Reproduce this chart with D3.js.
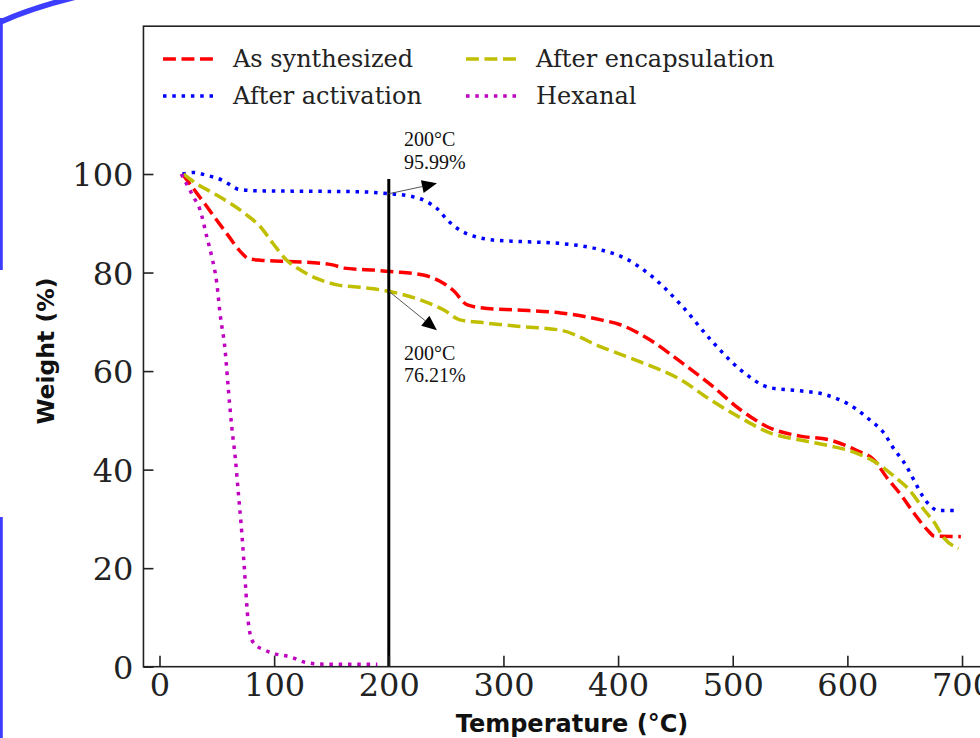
<!DOCTYPE html>
<html>
<head>
<meta charset="utf-8">
<script src="https://cdn.jsdelivr.net/npm/d3@7/dist/d3.min.js"></script>
<style>
  html, body { margin: 0; padding: 0; background: #ffffff; }
  svg { display: block; }
</style>
</head>
<body>
<svg id="chart" width="980" height="738"></svg>
<script>
// ---------------- DATA ----------------
const seriesNames = ["As synthesized", "After activation", "After encapsulation", "Hexanal"];

const tempAsSynth = [20, 30, 40, 50, 60, 70, 78, 88, 117, 140, 152, 161, 187, 201, 230, 245, 257, 268, 286, 312, 350, 385, 402, 428, 455, 481, 507, 533, 559, 585, 607, 623, 635, 647, 658, 670, 676, 699];
const weightAsSynth = [100, 96.9, 93.8, 90.6, 87.5, 84.4, 82.8, 82.5, 82.2, 81.9, 81.5, 80.9, 80.5, 80.2, 79.5, 78.2, 76.2, 73.5, 72.7, 72.4, 71.8, 70.4, 69.4, 66.3, 61.8, 57.2, 52.1, 48.4, 46.8, 46, 44, 42, 38.2, 34.8, 31.2, 27.7, 26.5, 26.4];

const tempActivation = [20, 30, 40, 54, 61, 69, 85, 130, 175, 200, 219, 233, 242, 251, 262, 274, 291, 315, 350, 385, 406, 428, 455, 481, 507, 533, 559, 581, 607, 620, 632, 640, 651, 658, 666, 673, 679, 696];
const weightActivation = [100, 100.3, 99.8, 98.8, 97.9, 96.9, 96.6, 96.5, 96.4, 96.0, 95.5, 94.4, 93, 90.7, 88.6, 87.4, 86.6, 86.3, 85.9, 84.6, 82.9, 79.5, 73.4, 66.3, 60.2, 56.6, 56, 55.2, 52.4, 50, 47.4, 44.4, 40.9, 37.9, 34.5, 32.5, 31.7, 31.7];

const tempEncaps = [21, 32, 47, 62, 76, 88, 99, 111, 123, 137, 155, 175, 200, 228, 248, 262, 283, 312, 350, 385, 420, 455, 481, 507, 533, 559, 585, 605, 626, 641, 654, 667, 676, 684, 697];
const weightEncaps = [100, 98.1, 96.1, 94, 91.7, 89.3, 85.9, 82.5, 80.5, 78.8, 77.5, 77, 76.2, 74.4, 72.4, 70.4, 69.8, 69.1, 68.3, 64.9, 61.8, 58.2, 54.1, 50.5, 47.4, 46, 44.8, 43.6, 41.3, 38.6, 35.9, 31.8, 29.2, 26.2, 24];

const tempHexanal = [19, 29.5, 35.4, 41.2, 45.6, 50, 52.8, 57.2, 60.1, 63, 66, 68.8, 71.8, 74.7, 76.7, 79.6, 83.4, 90.7, 99.4, 114, 128.6, 146, 190];
const weightHexanal = [100, 95.4, 92.7, 87.3, 83.2, 77.8, 71.7, 64.3, 56.2, 48.7, 42.6, 35.2, 27.1, 17.6, 10.8, 6.1, 4.5, 3.5, 2.7, 2, 0.8, 0.5, 0.5];

const xTicks = [0, 100, 200, 300, 400, 500, 600, 700];
const yTicks = [0, 20, 40, 60, 80, 100];

const markerTemp = 200;          // vertical line
const markerTop = 99;
const annoPointY = [95.99, 76.21];
const annoTipX = [242, 242];
const annoTipY = [98.1, 68.3];
const annoLabels = [["200°C", "95.99%"], ["200°C", "76.21%"]];
const annoTextX = [213.3, 213.3];
const annoTextY = [[105.7, 101.0], [62.2, 57.8]];

// ---------------- STYLE / LAYOUT ----------------
const colors = ["#ff0000", "#0000ff", "#bfbf00", "#c000c0"];
const dashes = ["12.9,5.6", "3.5,5.8", "12.9,5.6", "3.5,5.8"];
const lineW = 3.5;

const svg = d3.select("#chart");
svg.append("rect").attr("width", 980).attr("height", 738).attr("fill", "#ffffff");

const x = d3.scaleLinear().domain([-14, 734]).range([143.45, 1001]);
const y = d3.scaleLinear().domain([0, 130]).range([666.7, 26.2]);

// decorative blue slide elements
const deco = svg.append("g").attr("stroke", "#3d3dff").attr("fill", "none");
deco.append("path").attr("d", "M -4,24 Q 30,8 80,-4").attr("stroke-width", 5.5);
deco.append("line").attr("x1", 1.3).attr("x2", 1.3).attr("y1", 18).attr("y2", 270).attr("stroke-width", 3);
deco.append("line").attr("x1", 1.3).attr("x2", 1.3).attr("y1", 517).attr("y2", 738).attr("stroke-width", 3);

svg.append("clipPath").attr("id", "plotclip").append("rect")
  .attr("x", x.range()[0]).attr("y", y.range()[1])
  .attr("width", x.range()[1] - x.range()[0]).attr("height", y.range()[0] - y.range()[1]);

const plot = svg.append("g").attr("clip-path", "url(#plotclip)");

const series = [
  { t: tempAsSynth, w: weightAsSynth },
  { t: tempActivation, w: weightActivation },
  { t: tempEncaps, w: weightEncaps },
  { t: tempHexanal, w: weightHexanal }
];

const line = d3.line().x(d => x(d[0])).y(d => y(d[1])).curve(d3.curveMonotoneX);

series.forEach((s, i) => {
  plot.append("path")
    .datum(s.t.map((t, j) => [t, s.w[j]]))
    .attr("d", line)
    .attr("fill", "none")
    .attr("stroke", colors[i])
    .attr("stroke-width", lineW)
    .attr("stroke-dasharray", dashes[i]);
});

// vertical marker line
plot.append("line")
  .attr("x1", x(markerTemp)).attr("x2", x(markerTemp))
  .attr("y1", y(0)).attr("y2", y(markerTop))
  .attr("stroke", "#000").attr("stroke-width", 3);

// annotations
annoPointY.forEach((py, i) => {
  const x0 = x(markerTemp), y0 = y(py), x1 = x(annoTipX[i]), y1 = y(annoTipY[i]);
  const ang = Math.atan2(y1 - y0, x1 - x0);
  const hl = 15, hw = 6.5;
  const bx = x1 - hl * Math.cos(ang), by = y1 - hl * Math.sin(ang);
  plot.append("line").attr("x1", x0).attr("y1", y0).attr("x2", bx).attr("y2", by)
    .attr("stroke", "#555").attr("stroke-width", 1);
  const pts = [
    [x1, y1],
    [bx + hw * Math.sin(ang), by - hw * Math.cos(ang)],
    [bx - hw * Math.sin(ang), by + hw * Math.cos(ang)]
  ];
  plot.append("path").attr("d", "M" + pts.map(p => p.join(",")).join("L") + "Z").attr("fill", "#000");
  annoLabels[i].forEach((txt, k) => {
    svg.append("text")
      .attr("x", x(annoTextX[i])).attr("y", y(annoTextY[i][k]))
      .attr("font-family", "'Liberation Serif', 'Times New Roman', serif")
      .attr("font-size", 20).attr("fill", "#111")
      .text(txt);
  });
});

// frame (spines)
svg.append("rect")
  .attr("x", x.range()[0]).attr("y", y.range()[1])
  .attr("width", x.range()[1] - x.range()[0]).attr("height", y.range()[0] - y.range()[1])
  .attr("fill", "none").attr("stroke", "#222").attr("stroke-width", 1.6);

// x axis (ticks inward)
const xAxis = d3.axisBottom(x).tickValues(xTicks).tickSizeInner(-11).tickSizeOuter(0).tickPadding(18);
const gx = svg.append("g").attr("transform", `translate(0,${y(0)})`).call(xAxis);
gx.select(".domain").remove();
gx.selectAll(".tick line").attr("stroke", "#222").attr("stroke-width", 1.6);
gx.selectAll(".tick text")
  .attr("font-family", "'DejaVu Serif', serif").attr("font-size", 32).attr("fill", "#222")
  .attr("dy", null).attr("y", 29);

// y axis (ticks inward)
const yAxis = d3.axisLeft(y).tickValues(yTicks).tickSizeInner(-10).tickSizeOuter(0).tickPadding(21);
const gy = svg.append("g").attr("transform", `translate(${x.range()[0]},0)`).call(yAxis);
gy.select(".domain").remove();
gy.selectAll(".tick line").attr("stroke", "#222").attr("stroke-width", 1.6);
gy.selectAll(".tick text")
  .attr("font-family", "'DejaVu Serif', serif").attr("font-size", 32).attr("fill", "#222")
  .attr("x", -10).attr("dy", "0.36em");

// axis labels
svg.append("text")
  .attr("x", 572).attr("y", 732)
  .attr("text-anchor", "middle")
  .attr("font-family", "'DejaVu Sans', sans-serif").attr("font-weight", "bold")
  .attr("font-size", 24).attr("fill", "#111")
  .text("Temperature (°C)");

svg.append("text")
  .attr("transform", "translate(54,351) rotate(-90)")
  .attr("text-anchor", "middle")
  .attr("font-family", "'DejaVu Sans', sans-serif").attr("font-weight", "bold")
  .attr("font-size", 23.5).attr("fill", "#111")
  .text("Weight (%)");

// legend (2 columns, column-wise)
const legCols = [163, 466];
const legRows = [59, 96];
seriesNames.forEach((name, i) => {
  const col = Math.floor(i / 2), row = i % 2;
  const lx = legCols[col], ly = legRows[row];
  svg.append("line")
    .attr("x1", lx).attr("x2", lx + 51).attr("y1", ly).attr("y2", ly)
    .attr("stroke", colors[i]).attr("stroke-width", lineW)
    .attr("stroke-dasharray", dashes[i]);
  svg.append("text")
    .attr("x", lx + 70).attr("y", ly + 8)
    .attr("font-family", "'DejaVu Serif', serif").attr("font-size", 24).attr("fill", "#222")
    .text(name);
});
</script>
</body>
</html>
